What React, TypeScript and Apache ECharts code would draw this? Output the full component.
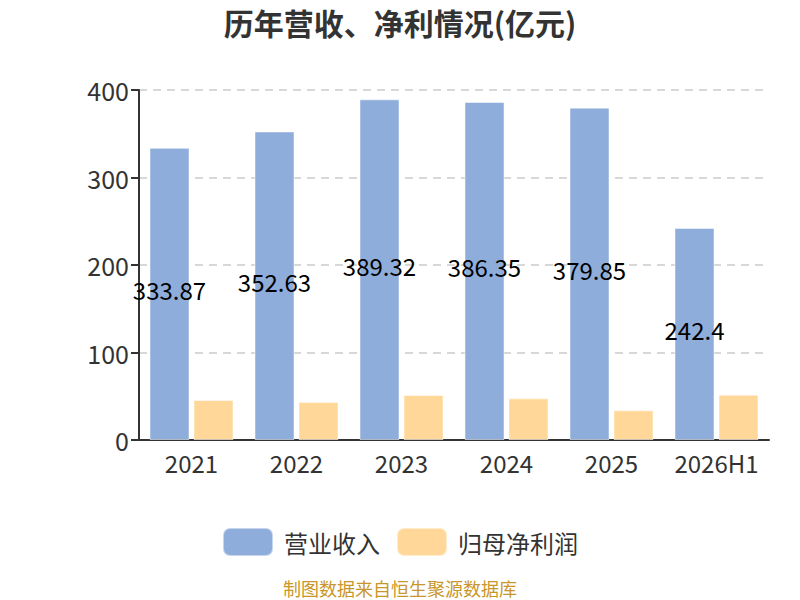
import React, { useEffect, useRef } from "react";
import * as echarts from "echarts";

const categories = ["2021", "2022", "2023", "2024", "2025", "2026H1"];
const revenue = [333.87, 352.63, 389.32, 386.35, 379.85, 242.4];
const netProfit = [45.7, 43.4, 51.4, 47.6, 33.9, 51.8];
const seriesNames = ["营业收入", "归母净利润"];
const titleText = "历年营收、净利情况(亿元)";
const sourceText = "制图数据来自恒生聚源数据库";

export default function App() {
  const ref = useRef<HTMLDivElement>(null);
  useEffect(() => {
    document.body.style.margin = "0";
    if (!ref.current) return;
    const chart = echarts.init(ref.current, undefined, { renderer: "svg" });
    const font = "'Noto Sans CJK SC', 'Noto Sans', sans-serif";
    chart.setOption({
      animation: false,
      textStyle: { fontFamily: font },
      title: {
        text: titleText,
        left: "center",
        top: 4,
        padding: [0, 5],
        textStyle: { fontSize: 30, lineHeight: 36, fontWeight: "bold", color: "#333", fontFamily: font },
      },
      legend: {
        data: seriesNames,
        top: 522,
        left: "center",
        itemWidth: 50,
        itemHeight: 28,
        itemGap: 16,
        textStyle: { fontSize: 24, color: "#333", fontFamily: font, padding: [0, 0, 0, 6] },
      },
      graphic: [
        {
          type: "text",
          left: "center",
          top: 579,
          style: { text: sourceText, fontSize: 18, fill: "#c9962b", fontFamily: font },
        },
      ],
      grid: { left: 139, right: 31, top: 90, bottom: 160 },
      xAxis: {
        type: "category",
        data: categories,
        axisLine: { lineStyle: { color: "#333", width: 2 } },
        axisTick: { length: 8, lineStyle: { color: "#333", width: 2 } },
        axisLabel: { fontSize: 24, color: "#333", margin: 10, interval: 0 },
      },
      yAxis: {
        type: "value",
        min: 0,
        max: 400,
        interval: 100,
        axisLine: { show: true, lineStyle: { color: "#333", width: 2 } },
        axisTick: { show: true, length: 8, lineStyle: { color: "#333", width: 2 } },
        axisLabel: { fontSize: 25, color: "#333", margin: 10 },
        splitLine: { lineStyle: { color: "#ccc", type: [8, 6], width: 1.5 } },
      },
      series: [
        {
          name: seriesNames[0],
          type: "bar",
          data: revenue,
          barWidth: 40,
          barGap: "10%",
          itemStyle: { color: "#8eaddb", borderColor: "rgba(255,255,255,0.5)", borderWidth: 1 },
          label: { show: true, position: "inside", color: "#000", fontSize: 24, offset: [0, -4] },
        },
        {
          name: seriesNames[1],
          type: "bar",
          data: netProfit,
          barWidth: 40,
          itemStyle: { color: "#ffd899", borderColor: "rgba(255,255,255,0.5)", borderWidth: 1 },
        },
      ],
    });
    return () => chart.dispose();
  }, []);
  return <div ref={ref} style={{ width: 800, height: 600 }} />;
}
